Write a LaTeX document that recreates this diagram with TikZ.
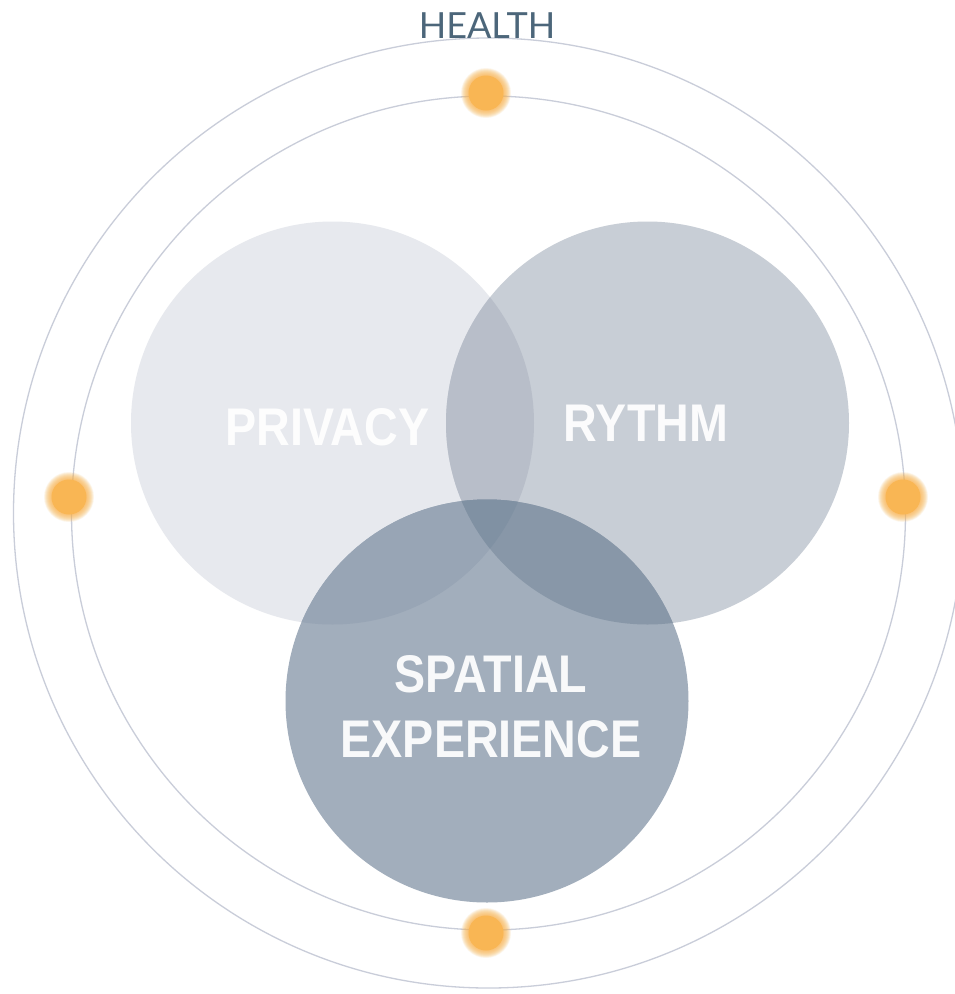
\documentclass[tikz,border=0pt]{standalone}
\usepackage{fontspec}
\newfontfamily\vennfont[FakeStretch=0.88]{Liberation Sans Bold}
\newfontfamily\healthfont{Lato}
\definecolor{ring}{HTML}{C9CDD9}
\definecolor{pcol}{HTML}{E7E9EE}
\definecolor{rcol}{HTML}{C8CED6}
\definecolor{scol}{HTML}{A2AEBC}
\definecolor{prcol}{HTML}{B8BEC9}
\definecolor{pscol}{HTML}{98A5B5}
\definecolor{rscol}{HTML}{8897A8}
\definecolor{prscol}{HTML}{8091A3}
\definecolor{dotcol}{HTML}{F9B654}
\definecolor{healthcol}{HTML}{4C667A}
\tikzset{
  ringline/.style={draw=ring, line width=1.3pt},
  venntext/.style={text=white, text opacity=0.93, font=\vennfont\fontsize{53}{60}\selectfont, inner sep=0pt, anchor=base},
  healthtext/.style={text=healthcol, font=\healthfont\fontsize{36}{40}\selectfont, inner sep=0pt, anchor=base},
}
\newcommand{\glowdot}[1]{%
  \foreach \rr in {25,24.5,...,15} {\fill[dotcol, opacity=0.09] #1 circle (\rr);}
  \fill[dotcol] #1 circle (17.5);
}
\begin{document}
\begin{tikzpicture}[x=1pt, y=-1pt]
\useasboundingbox (0,0) rectangle (955,994);
\fill[white] (0,0) rectangle (955,994);
% centres
\coordinate (P) at (332.5,423);
\coordinate (R) at (647.5,423);
\coordinate (S) at (487,701);
\coordinate (O) at (488.5,513);
\def\vr{201.5}
% rings
\draw[ringline] (O) circle (475);
\draw[ringline] (O) circle (417);
% venn regions
\fill[pcol] (P) circle (\vr);
\fill[rcol] (R) circle (\vr);
\begin{scope}\clip (P) circle (\vr); \fill[prcol] (R) circle (\vr); \end{scope}
\fill[scol] (S) circle (\vr);
\begin{scope}\clip (S) circle (\vr); \fill[pscol] (P) circle (\vr); \end{scope}
\begin{scope}\clip (S) circle (\vr); \fill[rscol] (R) circle (\vr); \end{scope}
\begin{scope}\clip (S) circle (\vr); \clip (P) circle (\vr); \fill[prscol] (R) circle (\vr); \end{scope}
% dots
\glowdot{(486,93)}
\glowdot{(486,933)}
\glowdot{(69,497)}
\glowdot{(903,497)}
% texts
\node[healthtext] (health) at (487,38) {HEALTH};
\node[venntext] (privacy) at (327.5,445) {PRIVACY};
\node[venntext] (rythm) at (646,441) {RYTHM};
\node[venntext] (spatial) at (491,692) {SPATIAL};
\node[venntext] (experience) at (491,757) {EXPERIENCE};
\end{tikzpicture}
\end{document}
